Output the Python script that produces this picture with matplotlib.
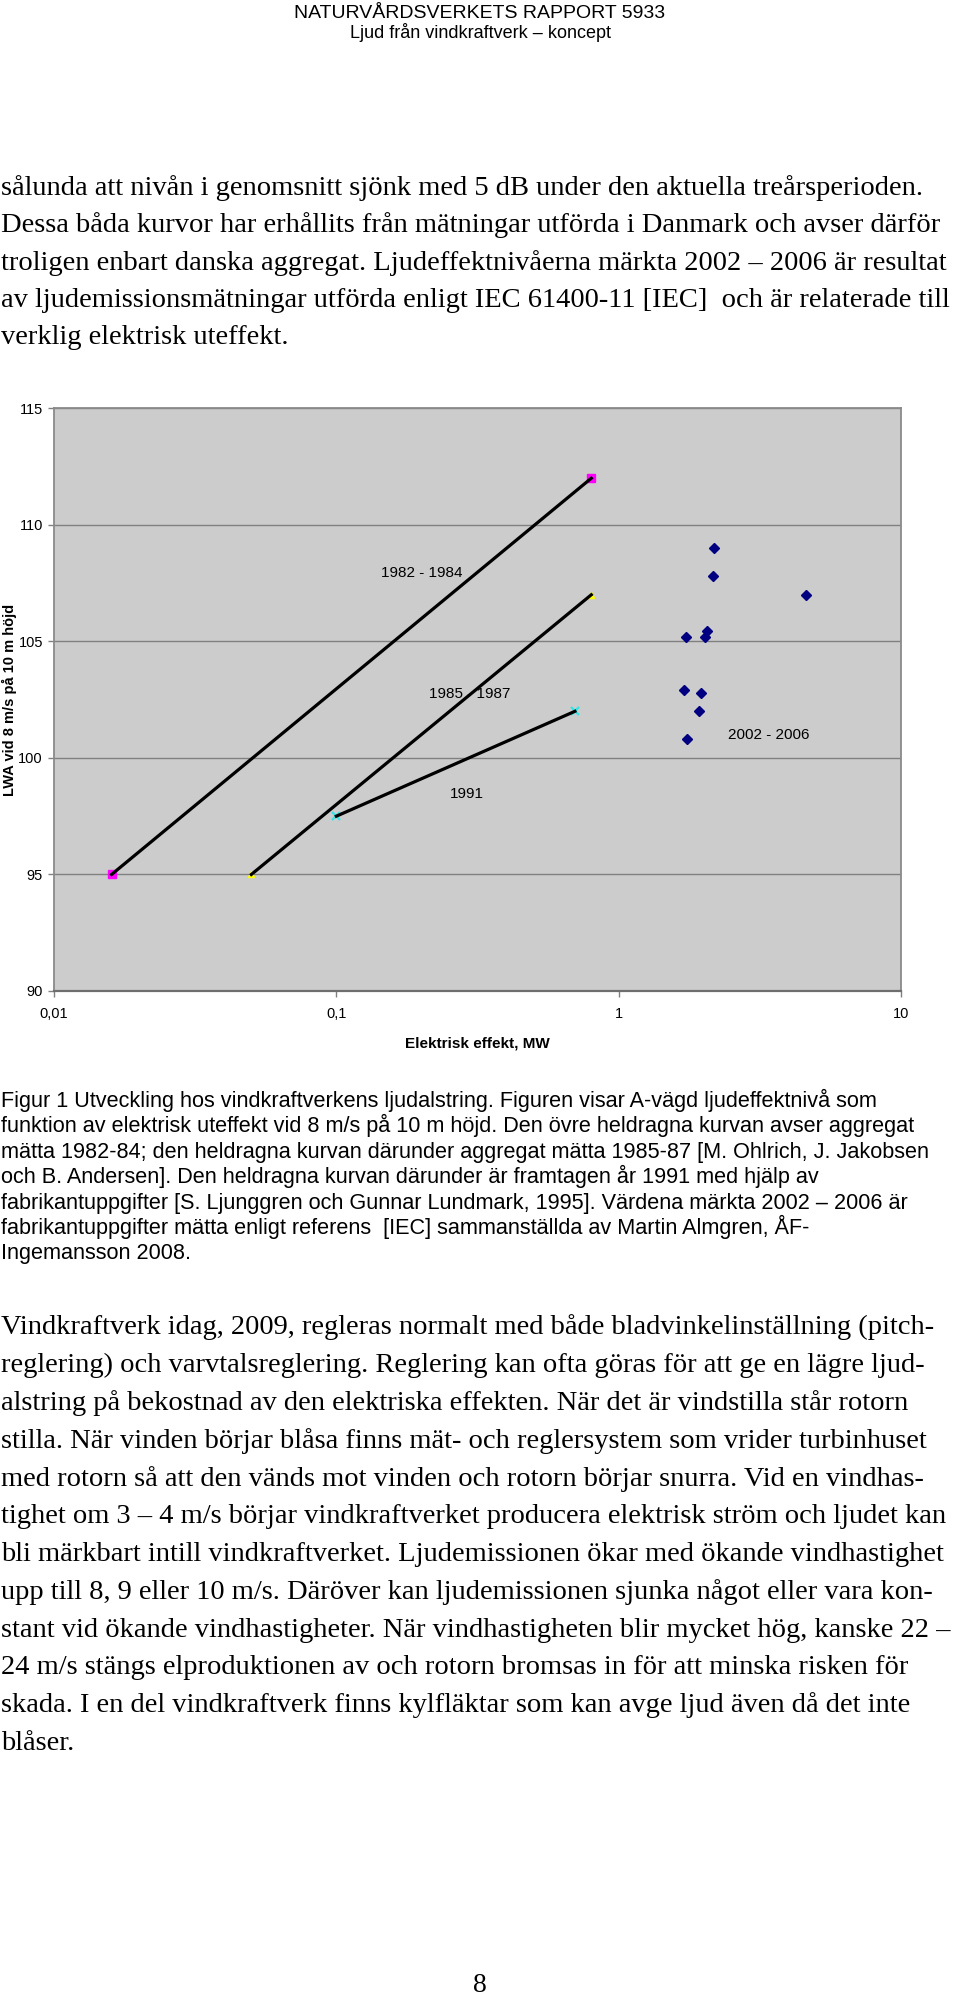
import numpy as np
import matplotlib
matplotlib.use('Agg')
import matplotlib.pyplot as plt

# ---- data ----
x_8284 = [0.016, 0.8]
y_8284 = [95, 112]
x_8587 = [0.05, 0.8]
y_8587 = [95, 107]
x_1991 = [0.1, 0.7]
y_1991 = [97.5, 102]
x_0206 = [2.18, 2.15, 4.6, 1.73, 2.05, 2.02, 1.71, 1.95, 1.92, 1.75]
y_0206 = [109.0, 107.8, 107.0, 105.2, 105.45, 105.2, 102.9, 102.8, 102.0, 100.8]

xticks = [0.01, 0.1, 1, 10]
xtick_labels = ['0,01', '0,1', '1', '10']
yticks = [90, 95, 100, 105, 110, 115]

# chart annotations: text, x value, y value
series_labels = ['1982 - 1984', '1985 - 1987', '1991', '2002 - 2006']
label_x = [0.20, 0.296, 0.291, 3.39]
label_y = [107.93, 102.76, 98.47, 101.0]

header = ['NATURVÅRDSVERKETS RAPPORT 5933', 'Ljud från vindkraftverk – koncept']

body_top = [
    'sålunda att nivån i genomsnitt sjönk med 5 dB under den aktuella treårsperioden.',
    'Dessa båda kurvor har erhållits från mätningar utförda i Danmark och avser därför',
    'troligen enbart danska aggregat. Ljudeffektnivåerna märkta 2002 – 2006 är resultat',
    'av ljudemissionsmätningar utförda enligt IEC 61400-11 [IEC]  och är relaterade till',
    'verklig elektrisk uteffekt.',
]

caption = [
    'Figur 1 Utveckling hos vindkraftverkens ljudalstring. Figuren visar A-vägd ljudeffektnivå som',
    'funktion av elektrisk uteffekt vid 8 m/s på 10 m höjd. Den övre heldragna kurvan avser aggregat',
    'mätta 1982-84; den heldragna kurvan därunder aggregat mätta 1985-87 [M. Ohlrich, J. Jakobsen',
    'och B. Andersen]. Den heldragna kurvan därunder är framtagen år 1991 med hjälp av',
    'fabrikantuppgifter [S. Ljunggren och Gunnar Lundmark, 1995]. Värdena märkta 2002 – 2006 är',
    'fabrikantuppgifter mätta enligt referens  [IEC] sammanställda av Martin Almgren, ÅF-',
    'Ingemansson 2008.',
]

body_bottom = [
    'Vindkraftverk idag, 2009, regleras normalt med både bladvinkelinställning (pitch-',
    'reglering) och varvtalsreglering. Reglering kan ofta göras för att ge en lägre ljud-',
    'alstring på bekostnad av den elektriska effekten. När det är vindstilla står rotorn',
    'stilla. När vinden börjar blåsa finns mät- och reglersystem som vrider turbinhuset',
    'med rotorn så att den vänds mot vinden och rotorn börjar snurra. Vid en vindhas-',
    'tighet om 3 – 4 m/s börjar vindkraftverket producera elektrisk ström och ljudet kan',
    'bli märkbart intill vindkraftverket. Ljudemissionen ökar med ökande vindhastighet',
    'upp till 8, 9 eller 10 m/s. Däröver kan ljudemissionen sjunka något eller vara kon-',
    'stant vid ökande vindhastigheter. När vindhastigheten blir mycket hög, kanske 22 –',
    '24 m/s stängs elproduktionen av och rotorn bromsas in för att minska risken för',
    'skada. I en del vindkraftverk finns kylfläktar som kan avge ljud även då det inte',
    'blåser.',
]

W, H = 960, 2000
fig = plt.figure(figsize=(9.6, 20), dpi=100)
fig.patch.set_facecolor('white')


def px(x, y):
    return x / W, 1 - y / H


sans = 'Liberation Sans'
serif = 'Liberation Serif'

# header
fig.text(*px(480, 18), header[0], ha='center', va='baseline', family=sans, fontsize=14)
fig.text(*px(480, 38.5), header[1], ha='center', va='baseline', family=sans, fontsize=13)

for i, line in enumerate(body_top):
    fig.text(*px(1, 194.5 + 37.5 * i), line, ha='left', va='baseline', family=serif, fontsize=20.5)

for i, line in enumerate(caption):
    fig.text(*px(1, 1107 + 25.4 * i), line, ha='left', va='baseline', family=sans, fontsize=15.6)

for i, line in enumerate(body_bottom):
    fig.text(*px(1, 1334.3 + 37.8 * i), line, ha='left', va='baseline', family=serif, fontsize=20.5)

fig.text(*px(480, 1986), '8', ha='center', va='center', family=serif, fontsize=20)

# ---- chart ----
ax = fig.add_axes([54 / W, 1 - 991 / H, (901 - 54) / W, (991 - 408.3) / H])
ax.set_facecolor('#cccccc')
ax.set_xscale('log')
ax.set_xlim(0.01, 10)
ax.set_ylim(90, 115)
ax.set_xticks(xticks)
ax.set_xticklabels(xtick_labels)
ax.xaxis.set_minor_locator(matplotlib.ticker.NullLocator())
ax.set_yticks(yticks)
ax.set_yticklabels([str(v) for v in yticks])
ax.grid(axis='y', color='#808080', linewidth=1.0)
ax.set_axisbelow(True)
ax.tick_params(axis='both', direction='out', length=4, width=1, color='#808080',
               labelsize=10.5, pad=4)
ax.tick_params(axis='x', pad=7.5)
for lab in ax.get_xticklabels() + ax.get_yticklabels():
    lab.set_family(sans)
for side in ['top', 'right', 'left']:
    ax.spines[side].set_color('#8a8a8a')
    ax.spines[side].set_linewidth(1.3)
ax.spines['bottom'].set_color('#6e6e6e')
ax.spines['bottom'].set_linewidth(1.6)

ax.plot(x_8284, y_8284, linestyle='none', marker='s', ms=5.5, color='#ff00ff', zorder=3)
ax.plot(x_8587, y_8587, linestyle='none', marker='^', ms=5, color='#ffff00', zorder=3)
ax.plot(x_1991, y_1991, linestyle='none', marker='x', ms=6, mew=1.6, color='#33e6e6', zorder=3)
ax.plot(x_8284, y_8284, color='black', lw=2.3, zorder=4)
ax.plot(x_8587, y_8587, color='black', lw=2.3, zorder=4)
ax.plot(x_1991, y_1991, color='black', lw=2.3, zorder=4)
ax.plot(x_0206, y_0206, linestyle='none', marker='D', ms=4.8, color='#000080', zorder=5)

for t, lx, ly in zip(series_labels, label_x, label_y):
    ax.text(lx, ly, t, ha='center', va='center', family=sans, fontsize=11, zorder=2)

ax.set_xlabel('Elektrisk effekt, MW', family=sans, fontsize=11, fontweight='bold', labelpad=11)
# y label sits just left of the tick labels
fig.text(*px(9, 699.5), 'LWA vid 8 m/s på 10 m höjd', rotation=90, ha='center', va='center',
         family=sans, fontsize=10.5, fontweight='bold', zorder=10)

fig.savefig('out.png', dpi=100, facecolor='white')
